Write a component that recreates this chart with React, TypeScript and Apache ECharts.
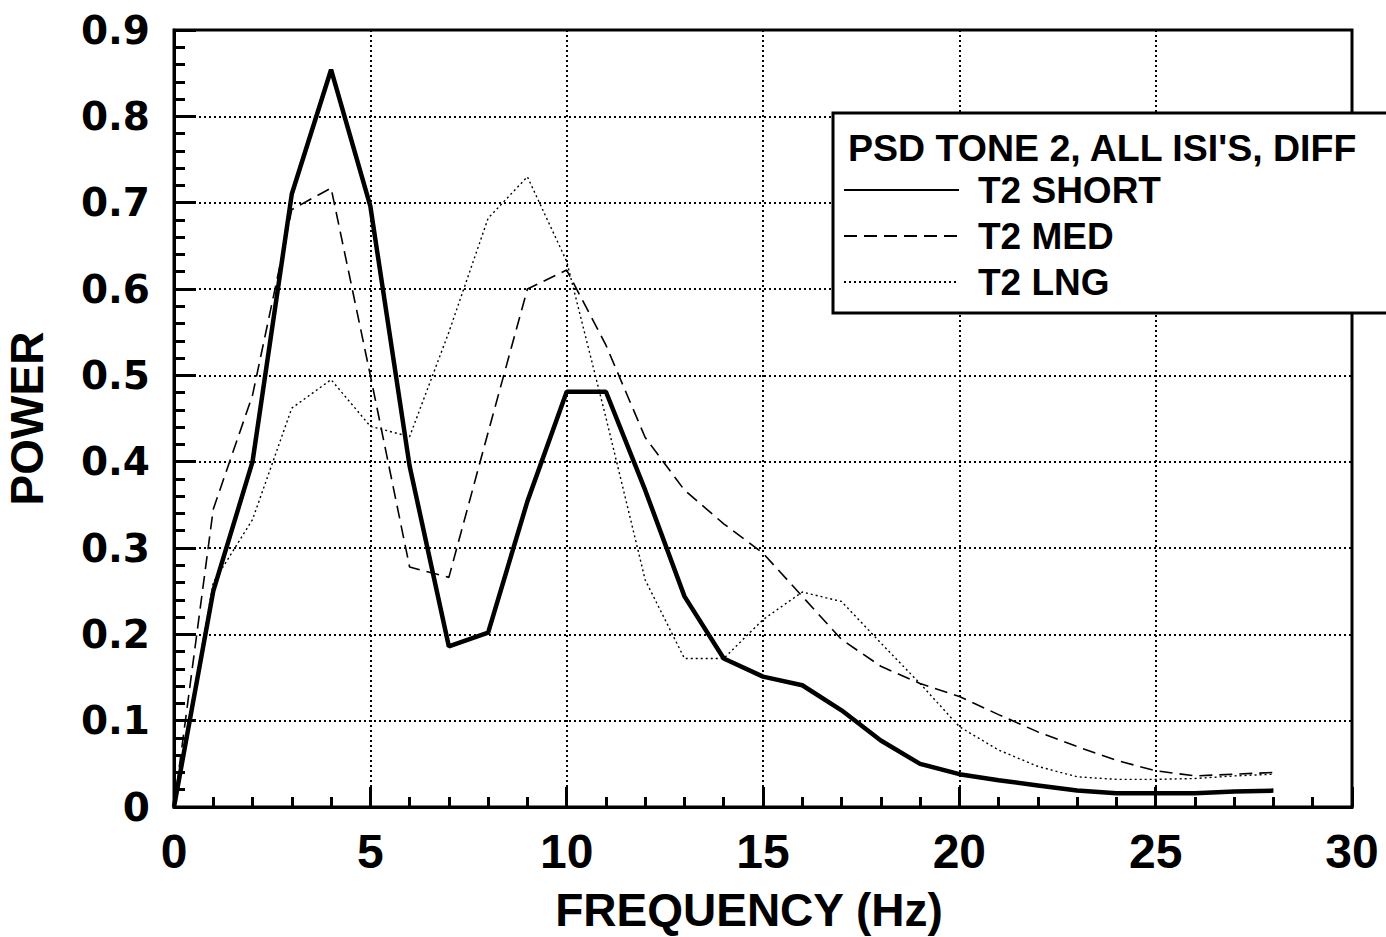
import React, { useEffect, useRef } from "react";
import * as echarts from "echarts";

const frequencies = [0, 1, 2, 3, 4, 5, 6, 7, 8, 9, 10, 11, 12, 13, 14, 15, 16, 17, 18, 19, 20, 21, 22, 23, 24, 25, 26, 27, 28];
const t2Short = [0, 0.25, 0.4, 0.71, 0.854, 0.696, 0.395, 0.186, 0.202, 0.354, 0.481, 0.481, 0.367, 0.244, 0.172, 0.151, 0.141, 0.112, 0.077, 0.05, 0.038, 0.031, 0.025, 0.019, 0.016, 0.016, 0.016, 0.018, 0.019];
const t2Med = [0, 0.345, 0.477, 0.692, 0.717, 0.5, 0.278, 0.266, 0.434, 0.6, 0.622, 0.535, 0.428, 0.367, 0.328, 0.294, 0.244, 0.194, 0.163, 0.143, 0.128, 0.107, 0.087, 0.07, 0.054, 0.042, 0.036, 0.038, 0.04];
const t2Lng = [0, 0.26, 0.333, 0.462, 0.495, 0.441, 0.429, 0.55, 0.682, 0.73, 0.632, 0.451, 0.263, 0.172, 0.172, 0.217, 0.249, 0.238, 0.19, 0.143, 0.093, 0.066, 0.047, 0.035, 0.032, 0.032, 0.033, 0.036, 0.038];
const seriesNames = ["T2 SHORT", "T2 MED", "T2 LNG"];
const legendTitle = "PSD TONE 2, ALL ISI'S, DIFF";
const xAxisName = "FREQUENCY (Hz)";
const yAxisName = "POWER";

const NARROW = '"Liberation Sans Narrow", "Arial Narrow", "Liberation Sans", sans-serif';
const WIDE = '"DejaVu Sans", "Liberation Sans", sans-serif';
const REG = '"Liberation Sans", Arial, sans-serif';

export default function App() {
  const ref = useRef<HTMLDivElement>(null);
  useEffect(() => {
    if (!ref.current) return;
    const chart = echarts.init(ref.current, undefined, { renderer: "svg" });
    const toPairs = (vals: number[]) => frequencies.map((f, i) => [f, vals[i]]);
    chart.setOption({
      animation: false,
      backgroundColor: "#fff",
      grid: {
        left: 174,
        right: 34,
        top: 30,
        bottom: 130,
        outerBoundsMode: "none",
        containLabel: false,
        show: true,
        borderColor: "#000",
        borderWidth: 3,
        backgroundColor: "transparent",
      },
      xAxis: {
        type: "value",
        min: 0,
        max: 30,
        interval: 5,
        name: xAxisName,
        nameLocation: "middle",
        nameGap: 78,
        nameTextStyle: {
          fontFamily: NARROW,
          fontWeight: "bold",
          fontSize: 46,
          color: "#000",
          lineHeight: 50,
          padding: [0, 28, 0, 0],
        },
        axisLine: { show: true, lineStyle: { color: "#000", width: 3 } },
        axisTick: { show: true, inside: true, length: 20, lineStyle: { color: "#000", width: 3 } },
        minorTick: { show: true, splitNumber: 5, length: 10, lineStyle: { color: "#000", width: 3 } },
        splitLine: { show: true, lineStyle: { color: "#000", width: 2, type: [2, 3] } },
        axisLabel: {
          margin: 20,
          fontFamily: NARROW,
          fontWeight: "bold",
          fontSize: 48,
          color: "#000",
          showMinLabel: true,
          showMaxLabel: true,
        },
      },
      yAxis: {
        type: "value",
        min: 0,
        max: 0.9,
        interval: 0.1,
        name: yAxisName,
        nameLocation: "middle",
        nameGap: 124,
        nameRotate: 90,
        nameTextStyle: {
          fontFamily: NARROW,
          fontWeight: "bold",
          fontSize: 46,
          color: "#000",
        },
        axisLine: { show: true, lineStyle: { color: "#000", width: 3 } },
        axisTick: { show: true, inside: true, length: 22, lineStyle: { color: "#000", width: 3 } },
        minorTick: { show: true, splitNumber: 5, length: 11, lineStyle: { color: "#000", width: 3 } },
        splitLine: { show: true, lineStyle: { color: "#000", width: 2, type: [2, 3] } },
        axisLabel: {
          margin: 24,
          fontFamily: WIDE,
          fontWeight: "bold",
          fontSize: 39,
          color: "#000",
          formatter: (v: number) => (v === 0 ? "0" : v.toFixed(1)),
        },
      },
      legend: {
        show: true,
        orient: "vertical",
        left: 843,
        top: 167,
        padding: 0,
        itemWidth: 115,
        itemHeight: 14,
        itemGap: 0,
        selectedMode: false,
        data: seriesNames,
        z: 20,
        itemStyle: { opacity: 0, borderWidth: 0 },
        textStyle: {
          fontFamily: REG,
          fontWeight: "bold",
          fontSize: 37,
          color: "#000",
          lineHeight: 46,
          padding: [0, 0, 0, 14],
        },
      },
      graphic: [
        {
          type: "rect",
          z: 10,
          shape: { x: 833, y: 113, width: 600, height: 200 },
          style: { fill: "#fff", stroke: "#000", lineWidth: 3 },
        },
        {
          type: "text",
          z: 20,
          x: 848,
          y: 148,
          style: {
            text: legendTitle,
            fontFamily: REG,
            fontWeight: "bold",
            fontSize: 37.5,
            fill: "#000",
            verticalAlign: "middle",
          },
        },
      ],
      series: [
        {
          name: seriesNames[0],
          type: "line",
          data: toPairs(t2Short),
          symbol: "none",
          lineStyle: { color: "#000", width: 4.5, type: "solid" },
          itemStyle: { color: "#000" },
          z: 3,
        },
        {
          name: seriesNames[1],
          type: "line",
          data: toPairs(t2Med),
          symbol: "none",
          lineStyle: { color: "#000", width: 1.6, type: [13, 7] },
          itemStyle: { color: "#000" },
          z: 3,
        },
        {
          name: seriesNames[2],
          type: "line",
          data: toPairs(t2Lng),
          symbol: "none",
          lineStyle: { color: "#000", width: 1.4, type: [2, 3] },
          itemStyle: { color: "#000" },
          z: 3,
        },
      ],
    });
    return () => chart.dispose();
  }, []);
  return (
    <div
      ref={ref}
      style={{ position: "fixed", left: 0, top: 0, width: 1386, height: 937, background: "#fff" }}
    />
  );
}
